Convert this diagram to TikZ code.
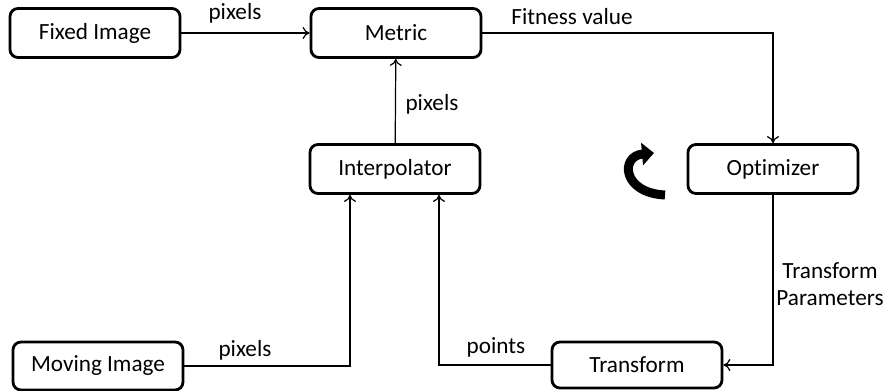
\documentclass[tikz,border=0pt]{standalone}
\usepackage{fontspec}
\setmainfont{Carlito}[Ligatures={NoCommon}]
\usetikzlibrary{arrows.meta}

\tikzset{
  block/.style={draw,line width=1.4pt,rounded corners=4pt,minimum width=85pt,
    minimum height=24.5pt,inner sep=0pt,font=\fontsize{11.6}{13}\selectfont},
  conn/.style={line width=0.6pt},
  lbl/.style={font=\fontsize{11.6}{13.5}\selectfont,inner sep=0pt,align=center}
}

\begin{document}
\begin{tikzpicture}[x=0.5pt,y=-0.5pt,>={To[length=3.5pt,width=6pt]}]
\useasboundingbox (0,0) rectangle (896,391);
% boxes
\node[block] (fixed) at (95,33) {Fixed Image};
\node[block] (metric) at (396,33) {Metric};
\node[block] (interp) at (395,169) {Interpolator};
\node[block] (optim) at (773,169) {Optimizer};
\node[block,minimum height=24pt] (moving) at (98,366) {Moving Image};
\node[block,minimum height=23pt] (transf) at (637,365) {Transform};
% connectors
\draw[conn,->] (fixed) -- (metric);
\draw[conn,->] (metric.east) -| (optim.north);
\draw[conn,->] (interp) -- (metric);
\draw[conn,->] (moving.east) -| ([xshift=-22.5pt]interp.south);
\draw[conn,->] (transf.west) -| ([xshift=22pt]interp.south);
\draw[conn,->] (optim.south) |- (transf.east);
% labels
\node[lbl] (l1) at (235,13) {pixels};
\node[lbl] (l2) at (572,17) {Fitness value};
\node[lbl] (l3) at (432,104) {pixels};
\node[lbl] (l4) at (245,350) {pixels};
\node[lbl] (l5) at (496,347) {points};
\node[lbl] (l6) at (830,284) {Transform\\Parameters};
% loop symbol
\draw[line width=4.5pt,-{Triangle[length=6pt,width=11pt]}] (665,195) .. controls (622,193) and (620,156) .. (654,153);
\end{tikzpicture}
\end{document}
